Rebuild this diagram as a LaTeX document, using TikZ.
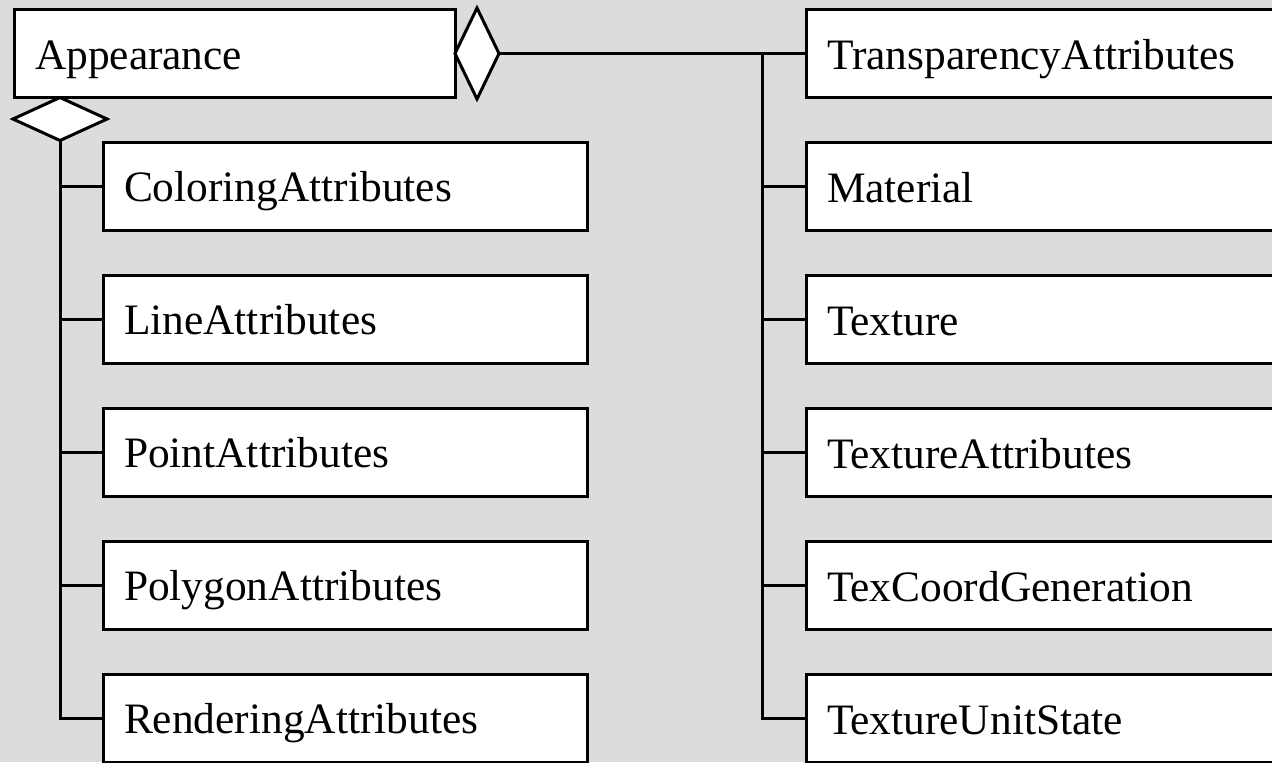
\documentclass[tikz,border=0pt]{standalone}
\usepackage{fontspec}
\setmainfont{Liberation Serif}
\usetikzlibrary{positioning,shapes.geometric}

\definecolor{bggray}{HTML}{DCDCDC}

\tikzset{
  cls/.style={draw, fill=white, line width=1.5pt, inner xsep=10.5pt, inner ysep=0pt, outer sep=0pt,
    minimum height=44pt, text width=#1, align=left, text height=15.6pt, text depth=0pt,
    font=\fontsize{21.7}{26}\selectfont},
  agg/.style={draw, fill=white, diamond, line width=1.5pt, inner sep=0pt, outer sep=0pt},
  link/.style={line width=1.5pt}
}

\begin{document}
\begin{tikzpicture}[x=0.5pt, y=-0.5pt]
\useasboundingbox (0,0) rectangle (1272,762);
\clip (0,0) rectangle (1272,762);
% Background
\fill[bggray] (0,0) rectangle (1272,762);

% Owner class
\node[cls=199.5pt] (app) at (234.5,53.5) {Appearance};

% Left column
\node[cls=221pt] (col) at (345,186) {ColoringAttributes};
\node[cls=221pt, below=22.5pt of col] (line) {LineAttributes};
\node[cls=221pt, below=22.5pt of line] (point) {PointAttributes};
\node[cls=221pt, below=22.5pt of point] (poly) {PolygonAttributes};
\node[cls=221pt, below=22.5pt of poly] (rend) {RenderingAttributes};

% Right column
\node[cls=229pt] (trans) at (1056,53.5) {TransparencyAttributes};
\node[cls=229pt, below=22.5pt of trans] (mat) {Material};
\node[cls=229pt, below=22.5pt of mat] (tex) {Texture};
\node[cls=229pt, below=22.5pt of tex] (texattr) {TextureAttributes};
\node[cls=229pt, below=22.5pt of texattr] (tcg) {TexCoordGeneration};
\node[cls=229pt, below=22.5pt of tcg] (tus) {TextureUnitState};

% Aggregation diamonds
\node[agg, minimum width=22pt, minimum height=45.5pt, anchor=west] (aggR) at (app.east) {};
\node[agg, minimum width=47pt, minimum height=21.5pt, anchor=north] (aggL) at ([xshift=23pt]app.south west) {};

% Left tree
\draw[link] (aggL.south) |- (rend.west);
\draw[link] (aggL.south |- col.west) -- (col.west);
\draw[link] (aggL.south |- line.west) -- (line.west);
\draw[link] (aggL.south |- point.west) -- (point.west);
\draw[link] (aggL.south |- poly.west) -- (poly.west);

% Right tree
\coordinate (hub) at (762,53.5);
\draw[link] (aggR.east) -- (trans.west);
\draw[link] (hub) |- (tus.west);
\draw[link] (hub |- mat.west) -- (mat.west);
\draw[link] (hub |- tex.west) -- (tex.west);
\draw[link] (hub |- texattr.west) -- (texattr.west);
\draw[link] (hub |- tcg.west) -- (tcg.west);
\end{tikzpicture}
\end{document}
